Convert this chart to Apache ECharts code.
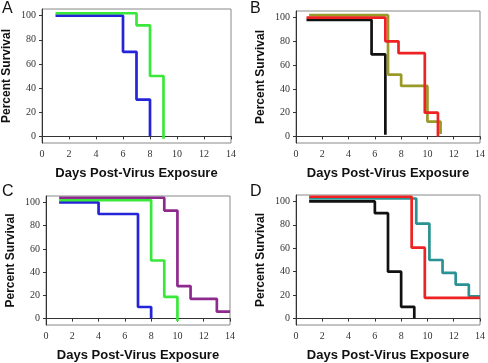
<!DOCTYPE html>
<html lang="en">
<head>
<meta charset="UTF-8">
<title>Survival</title>
<script src="https://cdn.jsdelivr.net/npm/echarts@6/dist/echarts.min.js"></script>
<style>
  body { margin: 0; padding: 0; background: #fff; }
  #main { width: 488px; height: 363px; }
</style>
</head>
<body>
<div id="main"></div>
<script>
    // ticks
    var xTicks = [0, 2, 4, 6, 8, 10, 12, 14];
    var yTicks = [0, 20, 40, 60, 80, 100];

    // panel A  [day, percent]
    var aBlue  = [[1, 100], [6, 70], [7, 30.5], [8, 0]];
    var aGreen = [[1, 102], [7, 92], [8, 50], [9, -2]];

    // panel B
    var bBlack = [[0.8, 98], [5.75, 69], [6.8, 1.5]];
    var bRed   = [[0.8, 100], [6.8, 80], [7.8, 70], [9.8, 20], [10.8, 0]];
    var bOlive = [[1, 102], [7, 52], [8, 42.5], [10, 12.5], [11, 2]];

    // panel C
    var cBlue   = [[1, 100], [4, 90], [7, 10], [8, 0]];
    var cGreen  = [[1, 102], [8, 50], [9, 18.7], [10, -2]];
    var cPurple = [[1, 104], [9, 93], [10, 28], [11, 17], [13, 6], [14, 6]];

    // panel D
    var dBlack = [[1, 100], [6, 90], [7, 40], [8, 10], [9, 0]];
    var dRed   = [[1, 104], [8.8, 60.5], [9.8, 17.7], [14, 17.7]];
    var dTeal  = [[1, 102.5], [9.15, 81], [10.15, 50], [11.15, 39], [12.15, 29], [13.15, 19], [14, 19]];

    var panels = [
        {letter: 'A', grid: {left: 42, top: 9, width: 189, height: 134},
         lines: [[aBlue, '#2424d8'], [aGreen, '#3ae83a']]},
        {letter: 'B', grid: {left: 296, top: 11, width: 184, height: 132},
         lines: [[bBlack, '#111111'], [bOlive, '#9a9a28'], [bRed, '#ee2222']]},
        {letter: 'C', grid: {left: 46, top: 196, width: 184, height: 132},
         lines: [[cBlue, '#2424d8'], [cGreen, '#3ae83a'], [cPurple, '#8e2a8e']]},
        {letter: 'D', grid: {left: 296, top: 195, width: 184, height: 133},
         lines: [[dBlack, '#111111'], [dTeal, '#2a9292'], [dRed, '#ee2222']]}
    ];

    var grids = [], xAxes = [], yAxes = [], series = [], graphics = [];
    var tickFont = {fontFamily: 'Liberation Serif', fontSize: 10, color: '#333'};
    var nameFont = {fontFamily: 'Liberation Sans', fontWeight: 'bold', color: '#111'};

    panels.forEach(function (p, i) {
        grids.push(Object.assign({show: true, borderColor: '#888', borderWidth: 1, containLabel: false}, p.grid));
        xAxes.push({
            gridIndex: i, type: 'value', min: 0, max: 14, interval: 2,
            name: 'Days Post-Virus Exposure', nameLocation: 'middle', nameGap: 24,
            nameTextStyle: Object.assign({fontSize: 13}, nameFont),
            axisLine: {lineStyle: {color: '#333', width: 1}},
            axisTick: {show: true, length: 3, lineStyle: {color: '#333'}},
            axisLabel: Object.assign({margin: 6, customValues: xTicks}, tickFont),
            splitLine: {show: false}
        });
        yAxes.push({
            gridIndex: i, type: 'value', min: -5.5, max: 105.5,
            name: 'Percent Survival', nameLocation: 'middle', nameGap: 29,
            nameTextStyle: Object.assign({fontSize: 12}, nameFont),
            axisLine: {show: true, lineStyle: {color: '#333', width: 1}},
            axisTick: {show: true, length: 3, customValues: yTicks, lineStyle: {color: '#333'}},
            axisLabel: Object.assign({margin: 6, customValues: yTicks}, tickFont),
            splitLine: {show: false}
        });
        p.lines.forEach(function (l) {
            series.push({
                type: 'line', xAxisIndex: i, yAxisIndex: i, data: l[0], step: 'end',
                symbol: 'none', lineStyle: {color: l[1], width: 2.7}, silent: true
            });
        });
        graphics.push({
            type: 'text',
            left: i % 2 === 0 ? 2 : 250,
            top: i < 2 ? 1 : 184,
            style: {text: p.letter, fontFamily: 'Liberation Sans', fontSize: 16, fill: '#111'}
        });
    });

    var myChart = echarts.init(document.getElementById('main'));
    myChart.setOption({
        animation: false,
        grid: grids,
        xAxis: xAxes,
        yAxis: yAxes,
        series: series,
        graphic: graphics
    });
</script>
</body>
</html>
